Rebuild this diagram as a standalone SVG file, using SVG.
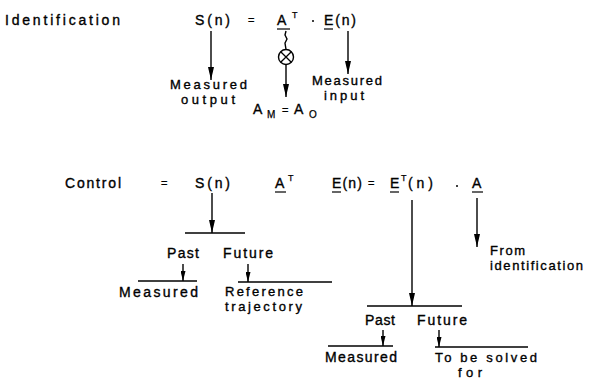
<svg xmlns="http://www.w3.org/2000/svg" width="602" height="382" viewBox="0 0 602 382">
<style>
text{font-family:"Liberation Sans",Arial,sans-serif;font-size:14px;fill:#000;stroke:#000;stroke-width:0.35}
.l{font-size:13px}
.sup{font-size:9px;stroke-width:0.25}
.sub{font-size:10px;stroke-width:0.25}
.eq{font-size:11px}
.c{stroke:#000;stroke-width:1.4;fill:none}
.u{stroke:#000;stroke-width:1.2}
.h{stroke:#000;stroke-width:1.3}
</style>
<defs>
<marker id="ah" viewBox="0 0 13 6" refX="13" refY="3" markerWidth="13" markerHeight="6" orient="auto" markerUnits="userSpaceOnUse">
<path d="M0,0 L13,3 L0,6 z" fill="#000"/>
</marker>
<marker id="as" viewBox="0 0 10 5" refX="10" refY="2.5" markerWidth="10" markerHeight="5" orient="auto" markerUnits="userSpaceOnUse">
<path d="M0,0 L10,2.5 L0,5 z" fill="#000"/>
</marker>
</defs>
<rect width="602" height="382" fill="#fff"/>

<g id="identification-eq">
<text x="5" y="25" textLength="115" lengthAdjust="spacing">Identification</text>
<text x="195" y="25" textLength="35" lengthAdjust="spacing">S(n)</text>
<text class="eq" x="248" y="24">=</text>
<text x="277" y="25">A</text>
<line class="u" x1="277" y1="29" x2="290" y2="29"/>
<text class="sup" x="292" y="18">T</text>
<circle cx="313" cy="21" r="1" fill="#000"/>
<text x="324" y="25" textLength="32" lengthAdjust="spacing">E(n)</text>
<line class="u" x1="324" y1="29" x2="333" y2="29"/>
</g>

<g id="multiplier">
<circle cx="286" cy="57" r="7.5" fill="#fff" stroke="#000" stroke-width="1.4"/>
<path d="M280.7,51.7 L291.3,62.3 M291.3,51.7 L280.7,62.3" stroke="#000" stroke-width="1.3"/>
</g>

<g id="measured-output">
<text class="l" x="170" y="89" textLength="77" lengthAdjust="spacing">Measured</text>
<text class="l" x="181" y="104" textLength="54" lengthAdjust="spacing">output</text>
</g>

<g id="am-ao">
<text x="253" y="114">A</text>
<text class="sub" x="267" y="118">M</text>
<text class="eq" x="282" y="114">=</text>
<text x="294" y="114">A</text>
<text class="sub" x="309" y="118">O</text>
</g>

<g id="measured-input">
<text class="l" x="312" y="85" textLength="70" lengthAdjust="spacing">Measured</text>
<text class="l" x="324" y="100" textLength="40" lengthAdjust="spacing">input</text>
</g>

<g id="control-eq">
<text x="65" y="188" textLength="56" lengthAdjust="spacing">Control</text>
<text class="eq" x="161" y="187">=</text>
<text x="195" y="188" textLength="35" lengthAdjust="spacing">S(n)</text>
<text x="275" y="188">A</text>
<line class="u" x1="275" y1="192" x2="286" y2="192"/>
<text class="sup" x="288" y="181">T</text>
<text x="332" y="188" textLength="30" lengthAdjust="spacing">E(n)</text>
<line class="u" x1="332" y1="192" x2="341" y2="192"/>
<text class="eq" x="368" y="187">=</text>
<text x="390" y="188">E</text>
<line class="u" x1="390" y1="192" x2="399" y2="192"/>
<text class="sup" x="401" y="181">T</text>
<text x="408" y="188" textLength="25" lengthAdjust="spacing">(n)</text>
<circle cx="457" cy="186" r="1" fill="#000"/>
<text x="472" y="188">A</text>
<line class="u" x1="472" y1="192" x2="483" y2="192"/>
</g>

<g id="s-split">
<line class="h" x1="185" y1="233" x2="245" y2="233"/>
<text x="167" y="258" textLength="32" lengthAdjust="spacing">Past</text>
<text x="223" y="258" textLength="50" lengthAdjust="spacing">Future</text>
</g>

<g id="s-past">
<line class="h" x1="138" y1="281" x2="197" y2="281"/>
<text x="119" y="297" textLength="79" lengthAdjust="spacing">Measured</text>
</g>

<g id="s-future">
<line class="h" x1="238" y1="282" x2="332" y2="282"/>
<text class="l" x="225" y="296" textLength="78" lengthAdjust="spacing">Reference</text>
<text class="l" x="225" y="311" textLength="77" lengthAdjust="spacing">trajectory</text>
</g>

<g id="from-identification">
<text class="l" x="490" y="255" textLength="35" lengthAdjust="spacing">From</text>
<text class="l" x="490" y="270" textLength="93" lengthAdjust="spacing">identification</text>
</g>

<g id="e-split">
<line class="h" x1="367" y1="306" x2="462" y2="306"/>
<text x="365" y="325" textLength="30" lengthAdjust="spacing">Past</text>
<text x="417" y="325" textLength="50" lengthAdjust="spacing">Future</text>
</g>

<g id="e-past">
<line class="h" x1="328" y1="346" x2="393" y2="346"/>
<text x="325" y="362" textLength="72" lengthAdjust="spacing">Measured</text>
</g>

<g id="e-future">
<line class="h" x1="435" y1="347" x2="528" y2="347"/>
<text class="l" x="435" y="362" textLength="102" lengthAdjust="spacing">To be solved</text>
<text class="l" x="458" y="377" textLength="24" lengthAdjust="spacing">for</text>
</g>

<g id="connectors">
<line class="c" x1="211" y1="31" x2="211" y2="80" marker-end="url(#ah)"/>
<path class="c" d="M286,31 L285,35 L287,39 L285,43 L286,49.5"/>
<line class="c" x1="286" y1="64.5" x2="286" y2="97" marker-end="url(#ah)"/>
<line class="c" x1="348" y1="31" x2="348" y2="74" marker-end="url(#ah)"/>
<line class="c" x1="212" y1="193" x2="212" y2="233" marker-end="url(#ah)"/>
<line class="c" x1="183" y1="264" x2="183" y2="281" marker-end="url(#as)"/>
<line class="c" x1="248" y1="264" x2="248" y2="282" marker-end="url(#as)"/>
<line class="c" x1="412" y1="200" x2="412" y2="306" marker-end="url(#ah)"/>
<line class="c" x1="383" y1="330" x2="383" y2="346" marker-end="url(#as)"/>
<line class="c" x1="439" y1="330" x2="439" y2="347" marker-end="url(#as)"/>
<line class="c" x1="477" y1="198" x2="477" y2="247" marker-end="url(#ah)"/>
</g>
</svg>
